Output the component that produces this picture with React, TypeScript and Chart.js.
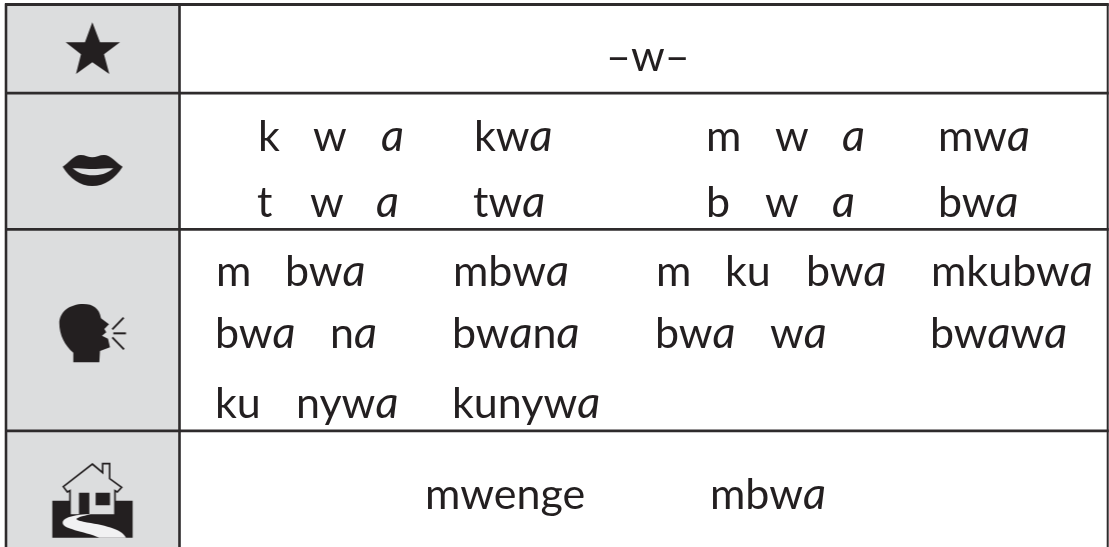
import React, { useEffect, useRef } from "react";
import { Chart, registerables } from "chart.js";

Chart.register(...registerables);

// ---- table content ----
const headerWords = ["–w–"];
const soundRowOne = ["k", "w", "a", "kwa", "m", "w", "a", "mwa"];
const soundRowTwo = ["t", "w", "a", "twa", "b", "w", "a", "bwa"];
const wordRowOne = ["m", "bwa", "mbwa", "m", "ku", "bwa", "mkubwa"];
const wordRowTwo = ["bwa", "na", "bwana", "bwa", "wa", "bwawa"];
const wordRowThree = ["ku", "nywa", "kunywa"];
const houseRow = ["mwenge", "mbwa"];

// ---- layout on the page-sized linear scales ----
const W = 1109;
const H = 547;
const columnLines = [6, 179.5, 1107.7];
const rowLines = [4.5, 93.2, 229.3, 430.8];
const tableRows = [
  { words: headerWords, y: 71, xs: [606] },
  { words: soundRowOne, y: 151, xs: [258, 313, 381, 474, 706, 775, 842, 938] },
  { words: soundRowTwo, y: 217, xs: [257, 310, 376, 473, 706, 765, 832, 938] },
  { words: wordRowOne, y: 286, xs: [216, 285, 453, 656, 725, 806, 931] },
  { words: wordRowTwo, y: 348, xs: [215, 330, 452, 655, 770, 930] },
  { words: wordRowThree, y: 418, xs: [215, 296, 452] },
  { words: houseRow, y: 509, xs: [425, 710] },
];
const iconCentres = [
  { x: 92.5, y: 50 },
  { x: 92.5, y: 170 },
  { x: 92.5, y: 333 },
  { x: 92.5, y: 500 },
];

const INK = "#231f20";
const PANEL = "#dcddde";
const LATIN = "Lato";
const SIZE = 43;
const ROUND_A_SIZE = 45;

type IconDraw = (c: CanvasRenderingContext2D) => void;
const fillPath = (c: CanvasRenderingContext2D, d: string, color = INK) => {
  c.fillStyle = color;
  c.fill(new Path2D(d));
};
const iconDraws: { cx: number; cy: number; draw: IconDraw }[] = [
  {
    cx: 277.5,
    cy: 150,
    draw: (c) =>
      fillPath(c, "M277 67L300 127L360 127L312 163L328 222L277 187L228 222L243 163L197 127L255 127Z"),
  },
  {
    cx: 277.5,
    cy: 510,
    draw: (c) => {
      fillPath(
        c,
        "M188 500C205 490 222 465 242 465C256 465 266 472 277 472C288 472 298 465 312 465C332 465 350 490 368 500C345 535 315 558 277 558C240 558 210 535 188 500Z"
      );
      fillPath(c, "M218 505C245 503 260 507 277 507C295 507 312 503 340 505C320 522 300 526 277 526C255 526 235 520 218 505Z", PANEL);
    },
  },
  {
    cx: 277.5,
    cy: 189,
    draw: (c) => {
      fillPath(
        c,
        "M220 277L220 248C195 228 178 195 178 160C178 125 210 102 250 102C280 102 298 115 303 145L327 163L313 177L319 187L306 197L324 206L330 232L300 243L298 277Z"
      );
      c.strokeStyle = INK;
      c.lineWidth = 6;
      for (const d of ["M337 178L371 143", "M340 190L378 190", "M337 202L372 238"]) c.stroke(new Path2D(d));
    },
  },
  {
    cx: 277.5,
    cy: 690,
    draw: (c) => {
      fillPath(c, "M157 692H398V803H157Z");
      c.fillStyle = PANEL;
      c.strokeStyle = INK;
      c.lineWidth = 5;
      const house = new Path2D(
        "M277 582L308 608L308 581L329 581L329 626L365 652L352 666L345 662L345 735L210 735L210 662L202 666L190 650Z"
      );
      c.fill(house);
      c.stroke(house);
      fillPath(c, "M237 668H268V732H237ZM287 668H330V706H287Z");
      fillPath(
        c,
        "M272 733C235 733 190 740 188 758C188 778 250 782 298 803L378 803C365 775 310 765 250 755C225 750 215 745 272 733Z",
        "#f1f1f2"
      );
    },
  },
];

const makeIcon = (cx: number, cy: number, draw: IconDraw) => {
  const S = 90;
  const cv = document.createElement("canvas");
  cv.width = S;
  cv.height = S;
  const c = cv.getContext("2d")!;
  c.translate(S / 2, S / 2);
  c.scale(1 / 3, 1 / 3);
  c.translate(-cx, -cy);
  draw(c);
  return cv;
};

const tablePlugin = {
  id: "tablePlugin",
  beforeDatasetsDraw(chart: any) {
    const { ctx, scales } = chart;
    const x0 = scales.x.getPixelForValue(columnLines[0]);
    const x1 = scales.x.getPixelForValue(columnLines[1]);
    const y0 = scales.y.getPixelForValue(rowLines[0]);
    const y1 = scales.y.getPixelForValue(H);
    ctx.save();
    ctx.fillStyle = PANEL;
    ctx.fillRect(x0, y0, x1 - x0, y1 - y0);
    ctx.restore();
  },
  afterDatasetsDraw(chart: any) {
    const { ctx } = chart;
    ctx.save();
    ctx.fillStyle = INK;
    ctx.textBaseline = "alphabetic";
    ctx.textAlign = "left";
    chart.data.datasets.forEach((ds: any, i: number) => {
      if (!ds.words) return;
      chart.getDatasetMeta(i).data.forEach((pt: any, j: number) => {
        let x = pt.x;
        const word: string = ds.words[j];
        // the primer's round "a" is the italic form; the other letters are upright
        const runs = word.match(/a+|[^a]+/g) || [];
        for (const run of runs) {
          ctx.font = run[0] === "a" ? `italic 400 ${ROUND_A_SIZE}px ${LATIN}` : `400 ${SIZE}px ${LATIN}`;
          ctx.fillText(run, x, pt.y);
          x += ctx.measureText(run).width;
        }
      });
    });
    ctx.restore();
  },
};

export default function App() {
  const ref = useRef<HTMLCanvasElement>(null);
  useEffect(() => {
    const vLines = columnLines.map((x, i) => ({
      type: "line",
      data: [
        { x, y: rowLines[0] - 1 },
        { x, y: H },
      ],
      borderColor: "#2e2b2c",
      borderWidth: i === 2 ? 2 : 2.6,
      pointRadius: 0,
      showLine: true,
    }));
    const hLines = rowLines.map((y) => ({
      type: "line",
      data: [
        { x: columnLines[0] - 1, y },
        { x: columnLines[2] + 1, y },
      ],
      borderColor: "#2e2b2c",
      borderWidth: 2.8,
      pointRadius: 0,
      showLine: true,
    }));
    const icons = {
      type: "scatter",
      data: iconCentres,
      pointStyle: iconDraws.map((d) => makeIcon(d.cx, d.cy, d.draw)),
      pointRadius: 30,
      showLine: false,
    };
    const texts = tableRows.map((r) => ({
      type: "scatter",
      data: r.xs.map((x) => ({ x, y: r.y })),
      words: r.words,
      pointRadius: 0,
      showLine: false,
    }));
    const chart = new Chart(ref.current!, {
      type: "scatter",
      data: { datasets: [...vLines, ...hLines, icons, ...texts] as any },
      options: {
        animation: false,
        responsive: false,
        layout: { padding: 0, autoPadding: false },
        plugins: { legend: { display: false }, tooltip: { enabled: false } },
        scales: {
          x: { type: "linear", display: false, min: 0, max: W },
          y: { type: "linear", display: false, min: 0, max: H, reverse: true },
        },
      },
      plugins: [tablePlugin],
    });
    return () => chart.destroy();
  }, []);
  return (
    <div style={{ position: "fixed", left: 0, top: 0, width: W, height: H, background: "#fff" }}>
      <canvas ref={ref} width={W} height={H} style={{ display: "block" }} />
    </div>
  );
}
